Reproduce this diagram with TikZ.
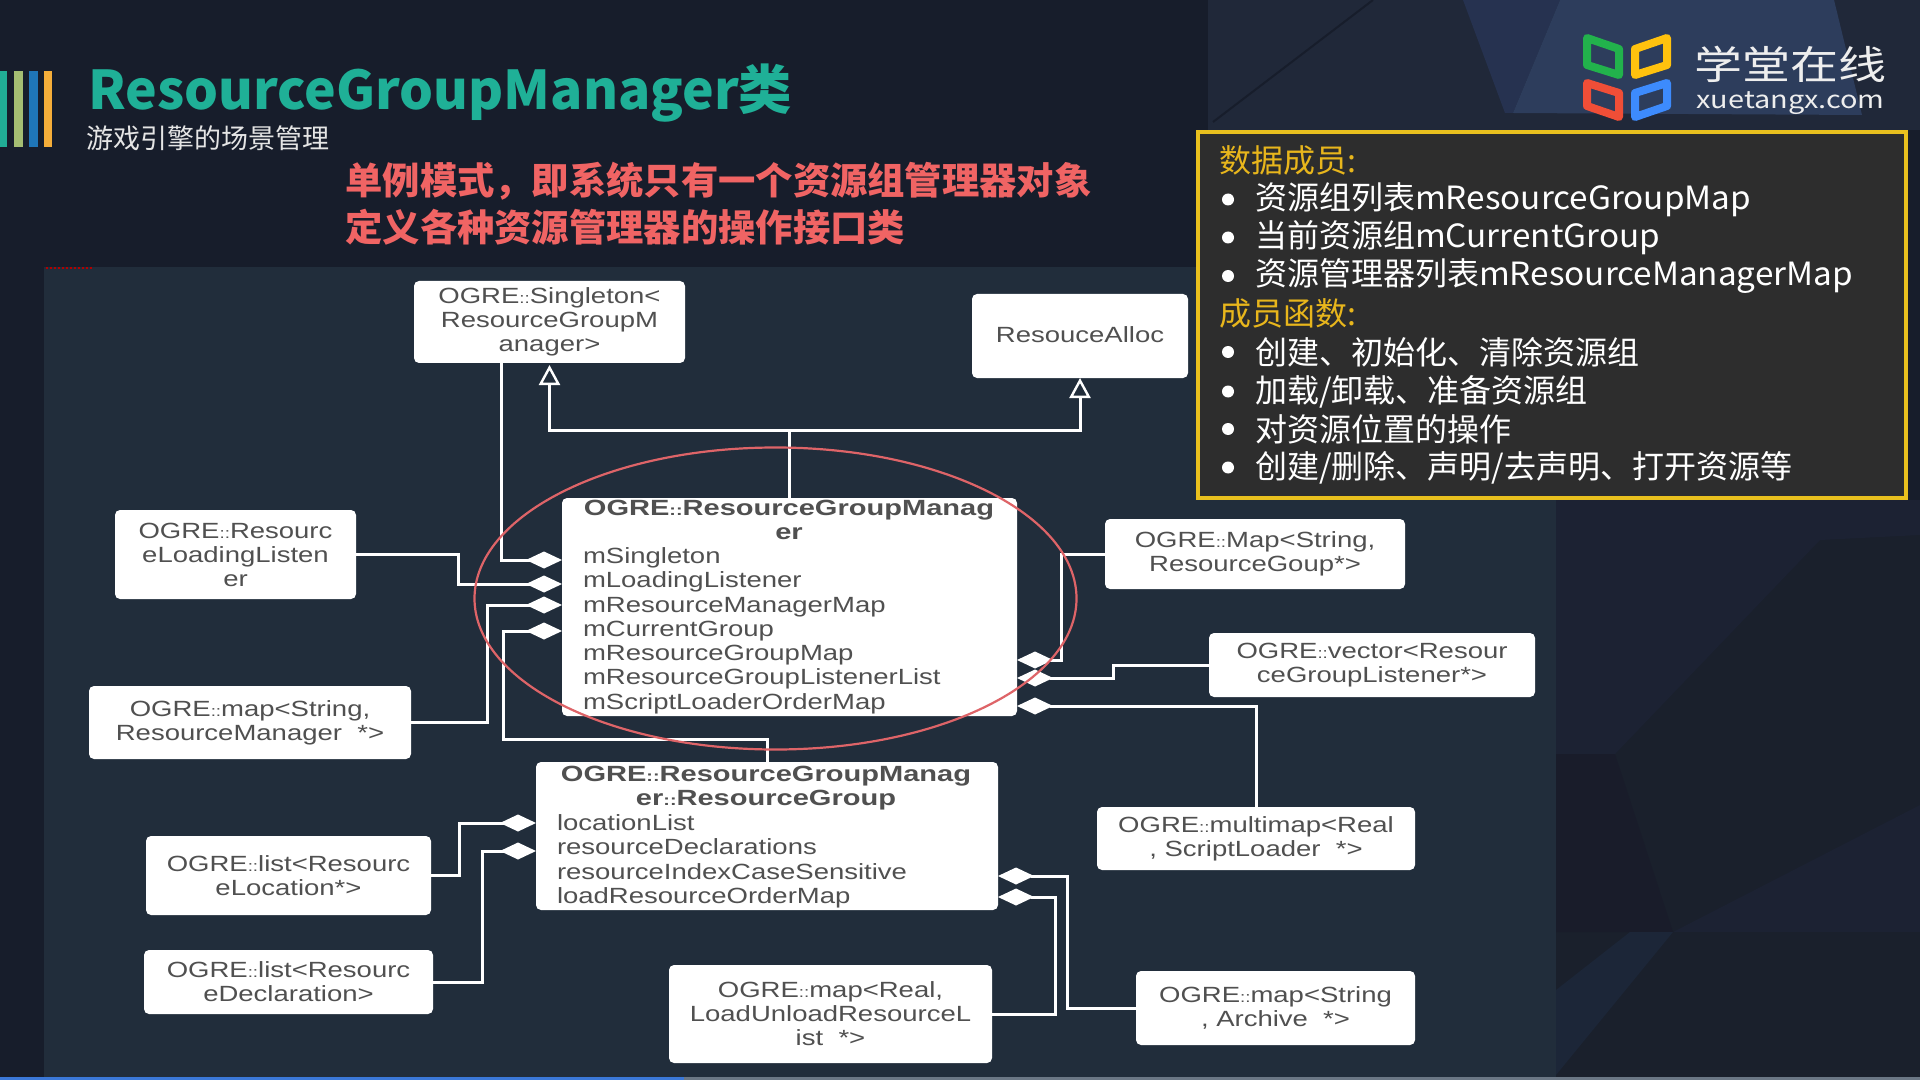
\documentclass[tikz,border=0pt]{standalone}
\usepackage{fontspec}
\usetikzlibrary{arrows.meta}
\setmainfont{Noto Sans CJK SC}
\newfontfamily\diagfont[FakeStretch=1.25]{Liberation Sans}
\newfontfamily\diagbold[FakeStretch=1.32]{Liberation Sans}
\newfontfamily\infolatin[FakeStretch=1.04]{Noto Sans CJK SC}
\definecolor{bgdark}{HTML}{171D2B}
\definecolor{bgmid}{HTML}{202839}
\definecolor{bgmed}{HTML}{263250}
\definecolor{bglite}{HTML}{2D3D5C}
\definecolor{bglow}{HTML}{1C2233}
\definecolor{bgcore}{HTML}{1A202C}
\definecolor{bgshade}{HTML}{191C2A}
\definecolor{bgsliver}{HTML}{1C2638}
\definecolor{panel}{HTML}{212D3B}
\definecolor{inkgray}{HTML}{505050}
\definecolor{titlegreen}{HTML}{1FB097}
\definecolor{bargreen}{HTML}{21AD96}
\definecolor{barolive}{HTML}{A5BD72}
\definecolor{barblue}{HTML}{1F76B8}
\definecolor{barorange}{HTML}{F5AE3A}
\definecolor{redtext}{HTML}{F06464}
\definecolor{gold}{HTML}{E9C01E}
\definecolor{headgold}{HTML}{E8B61C}
\definecolor{infobg}{HTML}{2D2D2D}
\definecolor{ringred}{HTML}{DE6468}
\definecolor{logotext}{HTML}{EEEEEE}
\definecolor{bookgreen}{HTML}{22B24C}
\definecolor{bookyellow}{HTML}{FFC20E}
\definecolor{bookred}{HTML}{F04E37}
\definecolor{bookblue}{HTML}{3D8BFD}
\definecolor{barprog}{HTML}{3B78D8}
\definecolor{barrest}{HTML}{6B7785}
\newcommand{\cc}{{\fontsize{7.5pt}{12pt}\selectfont ::}}
\newcommand{\lat}[1]{{\infolatin #1}}
\tikzset{
  boxx/.style 2 args={draw=none,fill=white,rounded corners=2.5pt,inner sep=0pt,outer sep=0pt,
    minimum width=#1*0.5pt,minimum height=#2*0.5pt,align=center,text=inkgray,
    font=\diagfont\fontsize{11pt}{12pt}\selectfont},
  members/.style={inner sep=0pt,outer sep=0pt,align=left,text=inkgray,
    font=\diagfont\fontsize{11pt}{12.15pt}\selectfont},
  heading/.style={inner sep=0pt,outer sep=0pt,align=center,text=inkgray,
    font=\diagbold\bfseries\fontsize{11pt}{12pt}\selectfont},
  wire/.style={draw=white,line width=1.5pt,line join=miter},
  comp/.style={wire,-{Diamond[length=18pt,width=8.5pt,fill=white]}},
  gener/.style={wire,-{Triangle[length=10pt,width=10.5pt,fill=panel,line width=1.2pt]}},
  infoline/.style={inner sep=0pt,outer sep=0pt,anchor=west,text=white,font=\fontsize{16pt}{18pt}\selectfont},
  infohead/.style={infoline,text=headgold},
  bookring/.style={line width=4pt,line join=round}
}
\begin{document}
\begin{tikzpicture}[x=0.5pt,y=-0.5pt]
\useasboundingbox (0,0) rectangle (1920,1080);
% background
\fill[bgdark] (0,0) rectangle (1920,1080);
\fill[bgmid] (1208,0) -- (1920,0) -- (1920,130) -- (1208,130) -- cycle;
\draw[bgdark,line width=1pt] (1373,0) -- (1213,122);
\fill[bgmed] (1463,0) -- (1560,0) -- (1513,113) -- (1505,113) -- cycle;
\fill[bglite] (1560,0) -- (1834,0) -- (1862,115) -- (1513,113) -- cycle;
\fill[bgcore] (1556,500) rectangle (1920,1080);
\fill[bglow] (1556,500) -- (1920,500) -- (1920,535) -- (1820,540) -- (1615,754) -- (1556,754) -- cycle;
\fill[bgshade] (1556,754) -- (1615,754) -- (1673,932) -- (1556,932) -- cycle;
\fill[bgsliver] (1556,1075) -- (1673,932) -- (1630,932) -- (1556,990) -- cycle;
\fill[bglow] (1673,932) -- (1920,805) -- (1920,932) -- cycle;
% colour bars
\fill[bargreen] (0,71) rectangle (7,147);
\fill[barolive] (14,71) rectangle (23,147);
\fill[barblue] (29,71) rectangle (38,147);
\fill[barorange] (44,71) rectangle (52,147);
% titles
\node[inner sep=0pt,anchor=base west,text=titlegreen,font=\bfseries\fontsize{26.7pt}{30pt}\selectfont] (title) at (88,109.5) {ResourceGroupManager类};
\node[inner sep=0pt,anchor=west,text=white!90!black,font=\fontsize{13.5pt}{15pt}\selectfont] (subtitle) at (86,138) {游戏引擎的场景管理};
\node[inner sep=0pt,anchor=west,text=redtext,font=\bfseries\fontsize{18.65pt}{20pt}\selectfont] (red1) at (345,181) {单例模式，即系统只有一个资源组管理器对象};
\node[inner sep=0pt,anchor=west,text=redtext,font=\bfseries\fontsize{18.65pt}{20pt}\selectfont] (red2) at (345,227) {定义各种资源管理器的操作接口类};
% logo
\draw[bookring,draw=bookgreen] (1587,38) -- (1619,49) -- (1619,75) -- (1587,65) -- cycle;
\draw[bookring,draw=bookyellow] (1635,49) -- (1667,38) -- (1667,65) -- (1635,75) -- cycle;
\draw[bookring,draw=bookred] (1587,83) -- (1619,93) -- (1619,117) -- (1587,106) -- cycle;
\draw[bookring,draw=bookblue] (1635,93) -- (1667,83) -- (1667,106) -- (1635,117) -- cycle;
\node[inner sep=0pt,anchor=west,text=logotext,font=\fontsize{24pt}{26pt}\selectfont] (logocn) at (1694,64) {\scalebox{1}[0.82]{学堂在线}};
\node[inner sep=0pt,anchor=west,text=logotext,font=\fontsize{13.5pt}{15pt}\selectfont] (logoen) at (1696,103) {\scalebox{1.07}[0.9]{xuetangx.com}};
% panel
\fill[panel] (44,267) rectangle (1556,1077);
\draw[red!70!black,line width=0.8pt,dash pattern=on 1pt off 1pt] (46,268) -- (92,268);
% info box
\node[draw=gold,fill=infobg,line width=2pt,inner sep=0pt,outer sep=0pt,minimum width=354pt,minimum height=183pt] (info) at (1552,315) {};
\node[infohead] (i1) at (1219,160) {数据成员:};
\node[infoline] (i2) at (1255,199.5) {资源组列表\lat{mResourceGroupMap}};
\node[infoline] (i3) at (1255,237.5) {当前资源组\lat{mCurrentGroup}};
\node[infoline] (i4) at (1255,276) {资源管理器列表\lat{mResourceManagerMap}};
\node[infohead] (i5) at (1219,313) {成员函数:};
\node[infoline] (i6) at (1255,352) {创建、初始化、清除资源组};
\node[infoline] (i7) at (1255,391.5) {加载/卸载、准备资源组};
\node[infoline] (i8) at (1255,429) {对资源位置的操作};
\node[infoline] (i9) at (1255,467.5) {创建/删除、声明/去声明、打开资源等};
\foreach \yy in {199.5,237.5,276,352,391.5,429,467.5}{\fill[white] (1228,\yy) circle [radius=3pt];}
% diagram boxes
\node[boxx={271}{82}] (singleton) at (549.5,322) {OGRE\cc Singleton<\\ResourceGroupM\\anager>};
\node[boxx={216}{84}] (alloc) at (1080,336) {\raisebox{1pt}{ResouceAlloc}};
\node[boxx={455}{218}] (rgm) at (789.5,607) {};
\node[heading,anchor=center] (rgmtitle) at (789,520) {OGRE\cc ResourceGroupManag\\er};
\node[members,anchor=north west] (rgmmembers) at (583,547.5) {mSingleton\\mLoadingListener\\mResourceManagerMap\\mCurrentGroup\\mResourceGroupMap\\mResourceGroupListenerList\\mScriptLoaderOrderMap};
\node[boxx={241}{89}] (listener) at (235.5,554.5) {OGRE\cc Resourc\\eLoadingListen\\er};
\node[boxx={322}{73}] (maprm) at (250,722.5) {OGRE\cc map<String,\\ResourceManager~~*>};
\node[boxx={462}{148}] (rg) at (767,836) {};
\node[heading,anchor=center] (rgtitle) at (766,788) {OGRE\cc ResourceGroupManag\\er\cc ResourceGroup};
\node[members,anchor=north west] (rgmembers) at (557,814.5) {locationList\\resourceDeclarations\\resourceIndexCaseSensitive\\loadResourceOrderMap};
\node[boxx={285}{79}] (listloc) at (288.5,875.5) {OGRE\cc list<Resourc\\eLocation*>};
\node[boxx={289}{64}] (listdecl) at (288.5,982) {OGRE\cc list<Resourc\\eDeclaration>};
\node[boxx={323}{98}] (mapreal) at (830.5,1014) {OGRE\cc map<Real,\\LoadUnloadResourceL\\ist~~*>};
\node[boxx={300}{70}] (maprg) at (1255,554) {OGRE\cc Map<String,\\ResourceGoup*>};
\node[boxx={326}{64}] (vector) at (1372,665) {OGRE\cc vector<Resour\\ceGroupListener*>};
\node[boxx={318}{63}] (multimap) at (1256,838.5) {OGRE\cc multimap<Real\\,~ScriptLoader~~*>};
\node[boxx={279}{74}] (archive) at (1275.5,1008) {OGRE\cc map<String\\,~Archive~~*>};
% generalisation
\coordinate (genjoint) at ([yshift=34pt]rgm.north);
\draw[wire] (rgm.north) -- (genjoint);
\draw[gener,shorten >=1pt] (genjoint) -| (singleton.south);
\draw[gener] (genjoint) -| (alloc.south);
% composition, left of the manager
\draw[comp] ([xshift=-24.25pt]singleton.south) |- ([yshift=23.5pt]rgm.west);
\draw[comp] (listener.east) -- ++(102,0) |- ([yshift=11.5pt]rgm.west);
\draw[comp] (maprm.east) -- ++(76,0) |- ([yshift=1pt]rgm.west);
\draw[comp] (rg.north) -- ++(0,-23) -- ++(-264,0) |- ([yshift=-12pt]rgm.west);
% composition, right of the manager
\draw[comp] (maprg.west) -- ++(-44,0) |- ([yshift=-26.5pt]rgm.east);
\draw[comp] (vector.west) -- ++(-96,0) |- ([yshift=-35.5pt]rgm.east);
\draw[comp] (multimap.north) |- ([yshift=-49.5pt]rgm.east);
% composition around the resource group
\draw[comp] (listloc.east) -- ++(28,0) |- ([yshift=6.5pt]rg.west);
\draw[comp] (listdecl.east) -- ++(49.5,0) |- ([yshift=-7.5pt]rg.west);
\draw[comp] (archive.west) -- ++(-69,0) |- ([yshift=-20pt]rg.east);
\draw[comp] (mapreal.east) -- ++(63,0) |- ([yshift=-30.5pt]rg.east);
% highlight ring
\draw[ringred,line width=1.1pt] (775.5,598.5) ellipse [x radius=150.5pt,y radius=75.5pt];
% bottom progress bar
\fill[barprog] (0,1077) rectangle (684,1080);
\fill[barrest] (684,1077) rectangle (1920,1080);
\end{tikzpicture}
\end{document}
